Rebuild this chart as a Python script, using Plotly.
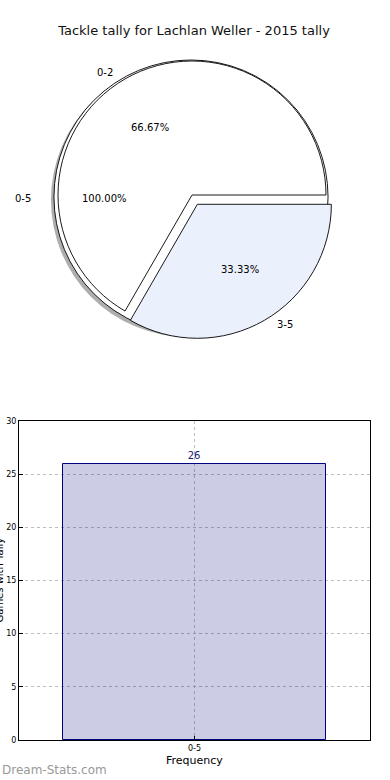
import numpy as np
import plotly.graph_objects as go

# ---------------- data ----------------
chart_title = "Tackle tally for Lachlan Weller - 2015 tally"
outer_labels = ["0-5"]
outer_values = [26]
inner_labels = ["0-2", "3-5"]
inner_values = [2, 1]
inner_colors = ["#ffffff", "#eaf0fc"]
inner_pull = [0.0, 0.08]
bar_categories = ["0-5"]
bar_values = [26]
y_ticks = [0, 5, 10, 15, 20, 25, 30]
x_title = "Frequency"
y_title = "Games with Tally"
watermark = "Dream-Stats.com"

W, H = 390, 780
FONT = "DejaVu Sans"

# pie geometry (pixels)
cx, cy, r = 192, 195, 134          # inner (two-slice) pie
ocx, ocy, r0 = 191, 197, 137       # full 0-5 pie
scx, scy = 188, 200                # shadow


def dom(x, y, half):
    return dict(x=[(x - half) / W, (x + half) / W],
                y=[1 - (y + half) / H, 1 - (y - half) / H])


fig = go.Figure()

# shadow
fig.add_trace(go.Pie(values=outer_values, labels=outer_labels, sort=False,
                     marker=dict(colors=["#9a9a9a"], line=dict(width=0)),
                     textinfo="none", hoverinfo="skip", showlegend=False,
                     domain=dom(scx, scy, r0), opacity=0.8))
# full pie 0-5
fig.add_trace(go.Pie(values=outer_values, labels=outer_labels, sort=False,
                     marker=dict(colors=["#ffffff"], line=dict(color="black", width=0.9)),
                     textinfo="none", showlegend=False,
                     domain=dom(ocx, ocy, r0)))
# two-slice pie: 0-2 runs counter-clockwise from 3 o'clock, i.e. clockwise from 7 o'clock
maxpull = max(inner_pull)
start_deg = 90 + 360.0 * (1 - inner_values[0] / float(sum(inner_values)))
fig.add_trace(go.Pie(values=inner_values, labels=inner_labels, sort=False,
                     direction="clockwise", rotation=start_deg % 360,
                     pull=inner_pull,
                     marker=dict(colors=inner_colors, line=dict(color="black", width=0.9)),
                     textinfo="none", showlegend=False,
                     domain=dom(cx, cy, r * (1 + maxpull))))

annotations = []


def pie_text(labels, values, pulls, pcx, pcy, prx, pry):
    tot = float(sum(values))
    cum = 0.0
    for lab, v, p in zip(labels, values, pulls):
        mid = np.deg2rad(360.0 * (cum + v / 2.0) / tot)
        cum += v
        ox = pcx + p * prx * np.cos(mid)
        oy = pcy - p * pry * np.sin(mid)
        lx = ox + 1.1 * prx * np.cos(mid)
        ly = oy - 1.1 * pry * np.sin(mid)
        annotations.append(dict(x=lx / W, y=1 - ly / H, xref="paper", yref="paper",
                                text=lab, showarrow=False,
                                xanchor="left" if np.cos(mid) > 0 else "right",
                                yanchor="middle",
                                font=dict(family=FONT, size=10, color="black")))
        px_ = ox + 0.6 * prx * np.cos(mid)
        py_ = oy - 0.6 * pry * np.sin(mid)
        annotations.append(dict(x=px_ / W, y=1 - py_ / H, xref="paper", yref="paper",
                                text="%.2f%%" % (100.0 * v / tot), showarrow=False,
                                xanchor="center", yanchor="middle",
                                font=dict(family=FONT, size=10, color="black")))


pie_text(outer_labels, outer_values, [0.0], ocx, 198, 144, 130)
pie_text(inner_labels, inner_values, inner_pull, 192, 194, 140, 128)

# ---------------- bar chart ----------------
fig.add_trace(go.Bar(x=bar_categories, y=bar_values, width=0.75,
                     marker=dict(color="rgba(0,0,120,0.2)",
                                 line=dict(color="#000080", width=1)),
                     text=[str(v) for v in bar_values], textposition="outside",
                     textfont=dict(family=FONT, size=10, color="#1a1a70"),
                     cliponaxis=False, showlegend=False,
                     xaxis="x", yaxis="y"))

axis_common = dict(showline=True, mirror=True, linecolor="black", linewidth=1,
                   showgrid=True, gridcolor="#bdbdbd", griddash="dot", gridwidth=1,
                   ticks="inside", ticklen=4, tickcolor="black",
                   tickfont=dict(family=FONT, size=8, color="black"),
                   zeroline=False, automargin=False)

fig.update_layout(
    width=W, height=H,
    margin=dict(l=0, r=0, t=0, b=0),
    paper_bgcolor="white", plot_bgcolor="white",
    title=dict(text=chart_title, x=194 / W, xanchor="center",
               y=1 - 30 / H, yanchor="middle", yref="container",
               font=dict(family=FONT, size=13, color="#111111")),
    xaxis=dict(domain=[19 / W, 370 / W], range=[-0.5, 0.5], type="category",
               **axis_common),
    yaxis=dict(domain=[1 - 740 / H, 1 - 421 / H], range=[0, 30],
               tickvals=y_ticks, **axis_common),
    bargap=0,
)

annotations.append(dict(x=194 / W, y=1 - 760 / H, xref="paper", yref="paper",
                        text=x_title, showarrow=False, xanchor="center", yanchor="middle",
                        font=dict(family=FONT, size=11, color="black")))
annotations.append(dict(x=6 / W, y=1 - 580 / H, xref="paper", yref="paper",
                        text=y_title, showarrow=False, xanchor="right", yanchor="middle",
                        textangle=-90,
                        font=dict(family=FONT, size=10, color="black")))
annotations.append(dict(x=0, y=1 - 770 / H, xref="paper", yref="paper",
                        text=watermark, showarrow=False, xanchor="left", yanchor="middle",
                        font=dict(family=FONT, size=12, color="#999999")))

fig.update_layout(annotations=annotations)

fig.write_html("out.html")
